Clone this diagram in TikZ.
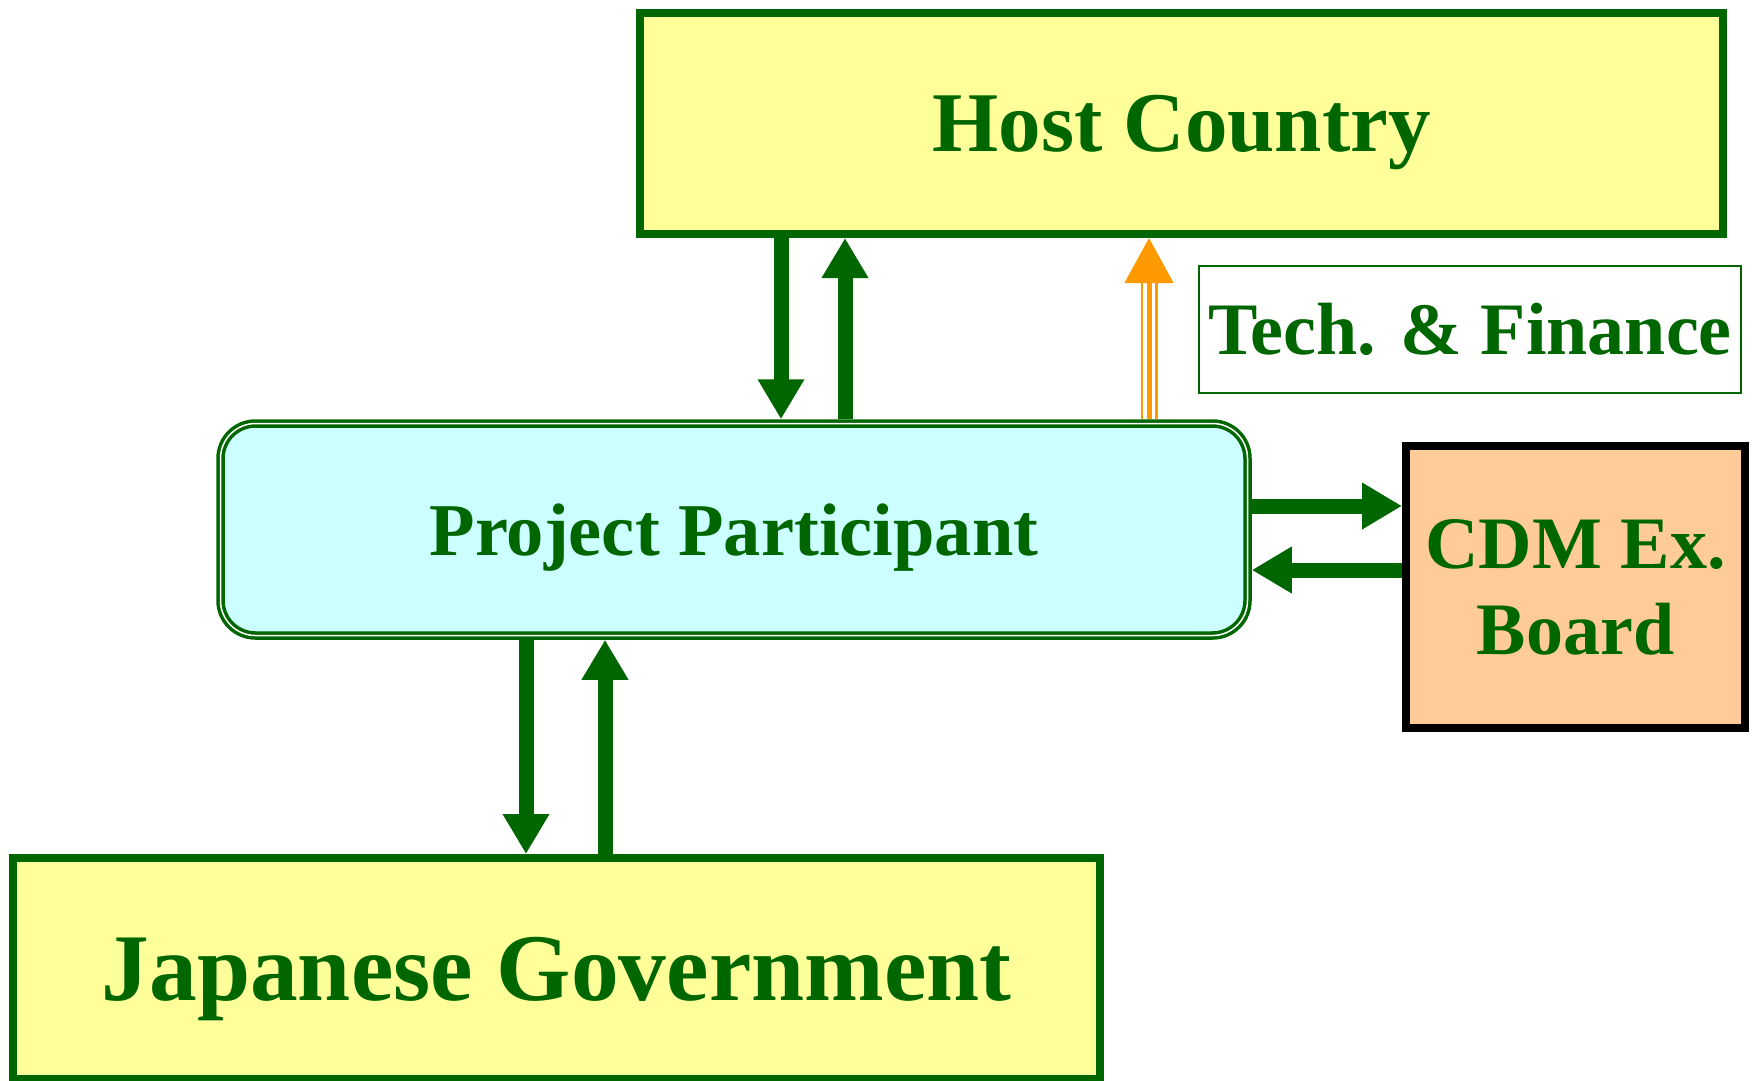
\documentclass[tikz,border=0pt]{standalone}
\usepackage{fontspec}
\setmainfont{Liberation Serif}
\usepackage{tikz}
\usetikzlibrary{positioning, arrows.meta}
\definecolor{greencolor}{RGB}{0,102,0}
\definecolor{hostcolor}{RGB}{255,255,153}
\definecolor{partcolor}{RGB}{204,255,255}
\definecolor{boardcolor}{RGB}{255,204,153}
\definecolor{techcolor}{RGB}{255,153,0}

\begin{document}
\begin{tikzpicture}[x=1pt, y=-1pt,
    govbox/.style={rectangle, fill=hostcolor, draw=greencolor, line width=8pt, text=greencolor, text depth=0pt},
    flow/.style={draw=greencolor, line width=15pt, -{Triangle[width=44pt, length=40pt]}}]
    \useasboundingbox (0,0) rectangle (1755,1080);

    \node[govbox, minimum width=1083pt, minimum height=221pt, font=\bfseries\fontsize{85}{100}\selectfont] (host) at (1181.5,123.5) {Host Country};
    \node[rectangle, rounded corners=35pt, fill=partcolor, draw=greencolor, line width=3.5pt, double=white, double distance=1.5pt, outer sep=4.25pt, minimum width=1027pt, minimum height=212pt, text=greencolor, text depth=0pt, font=\bfseries\fontsize{74.5}{86}\selectfont] (part) at (734,529.5) {Project Participant};
    \node[rectangle, fill=boardcolor, draw=black, line width=8pt, minimum width=339pt, minimum height=282pt, text=greencolor, align=center, font=\bfseries\fontsize{74}{86}\selectfont] (board) at (1575.5,587) {CDM Ex.\\Board};
    \node[govbox, minimum width=1087pt, minimum height=221pt, font=\bfseries\fontsize{95.5}{110}\selectfont] (japan) at (556.5,968.5) {Japanese Government};
    \node[rectangle, draw=greencolor, line width=2pt, minimum width=542pt, minimum height=127pt, text=greencolor, font=\bfseries\fontsize{74}{86}\selectfont] (tech) at (1470,329.5) {Tech. \& Finance};

    % host <-> participant
    \draw[flow] ([xshift=-400.5pt]host.south) -- ([xshift=47pt]part.north);
    \draw[flow] ([xshift=111pt]part.north) -- ([xshift=-336.5pt]host.south);
    % participant <-> japan
    \draw[flow] ([xshift=-208pt]part.south) -- ([xshift=-30.5pt]japan.north);
    \draw[flow] ([xshift=48.5pt]japan.north) -- ([xshift=-129pt]part.south);
    % participant <-> board
    \draw[flow] ([yshift=23.5pt]part.east) -- ([yshift=81pt]board.west);
    \draw[flow] ([yshift=17pt]board.west) -- ([yshift=-40.5pt]part.east);
    % tech and finance
    \draw[draw=techcolor, line width=5pt,
        preaction={draw=techcolor, line width=17pt, arrows=-, shorten >=44pt},
        preaction={draw=white, line width=12pt, arrows=-, shorten >=44pt},
        -{Triangle[width=48pt, length=45pt]}] ([xshift=415pt]part.north) -- ([xshift=-32.5pt]host.south);
\end{tikzpicture}
\end{document}
